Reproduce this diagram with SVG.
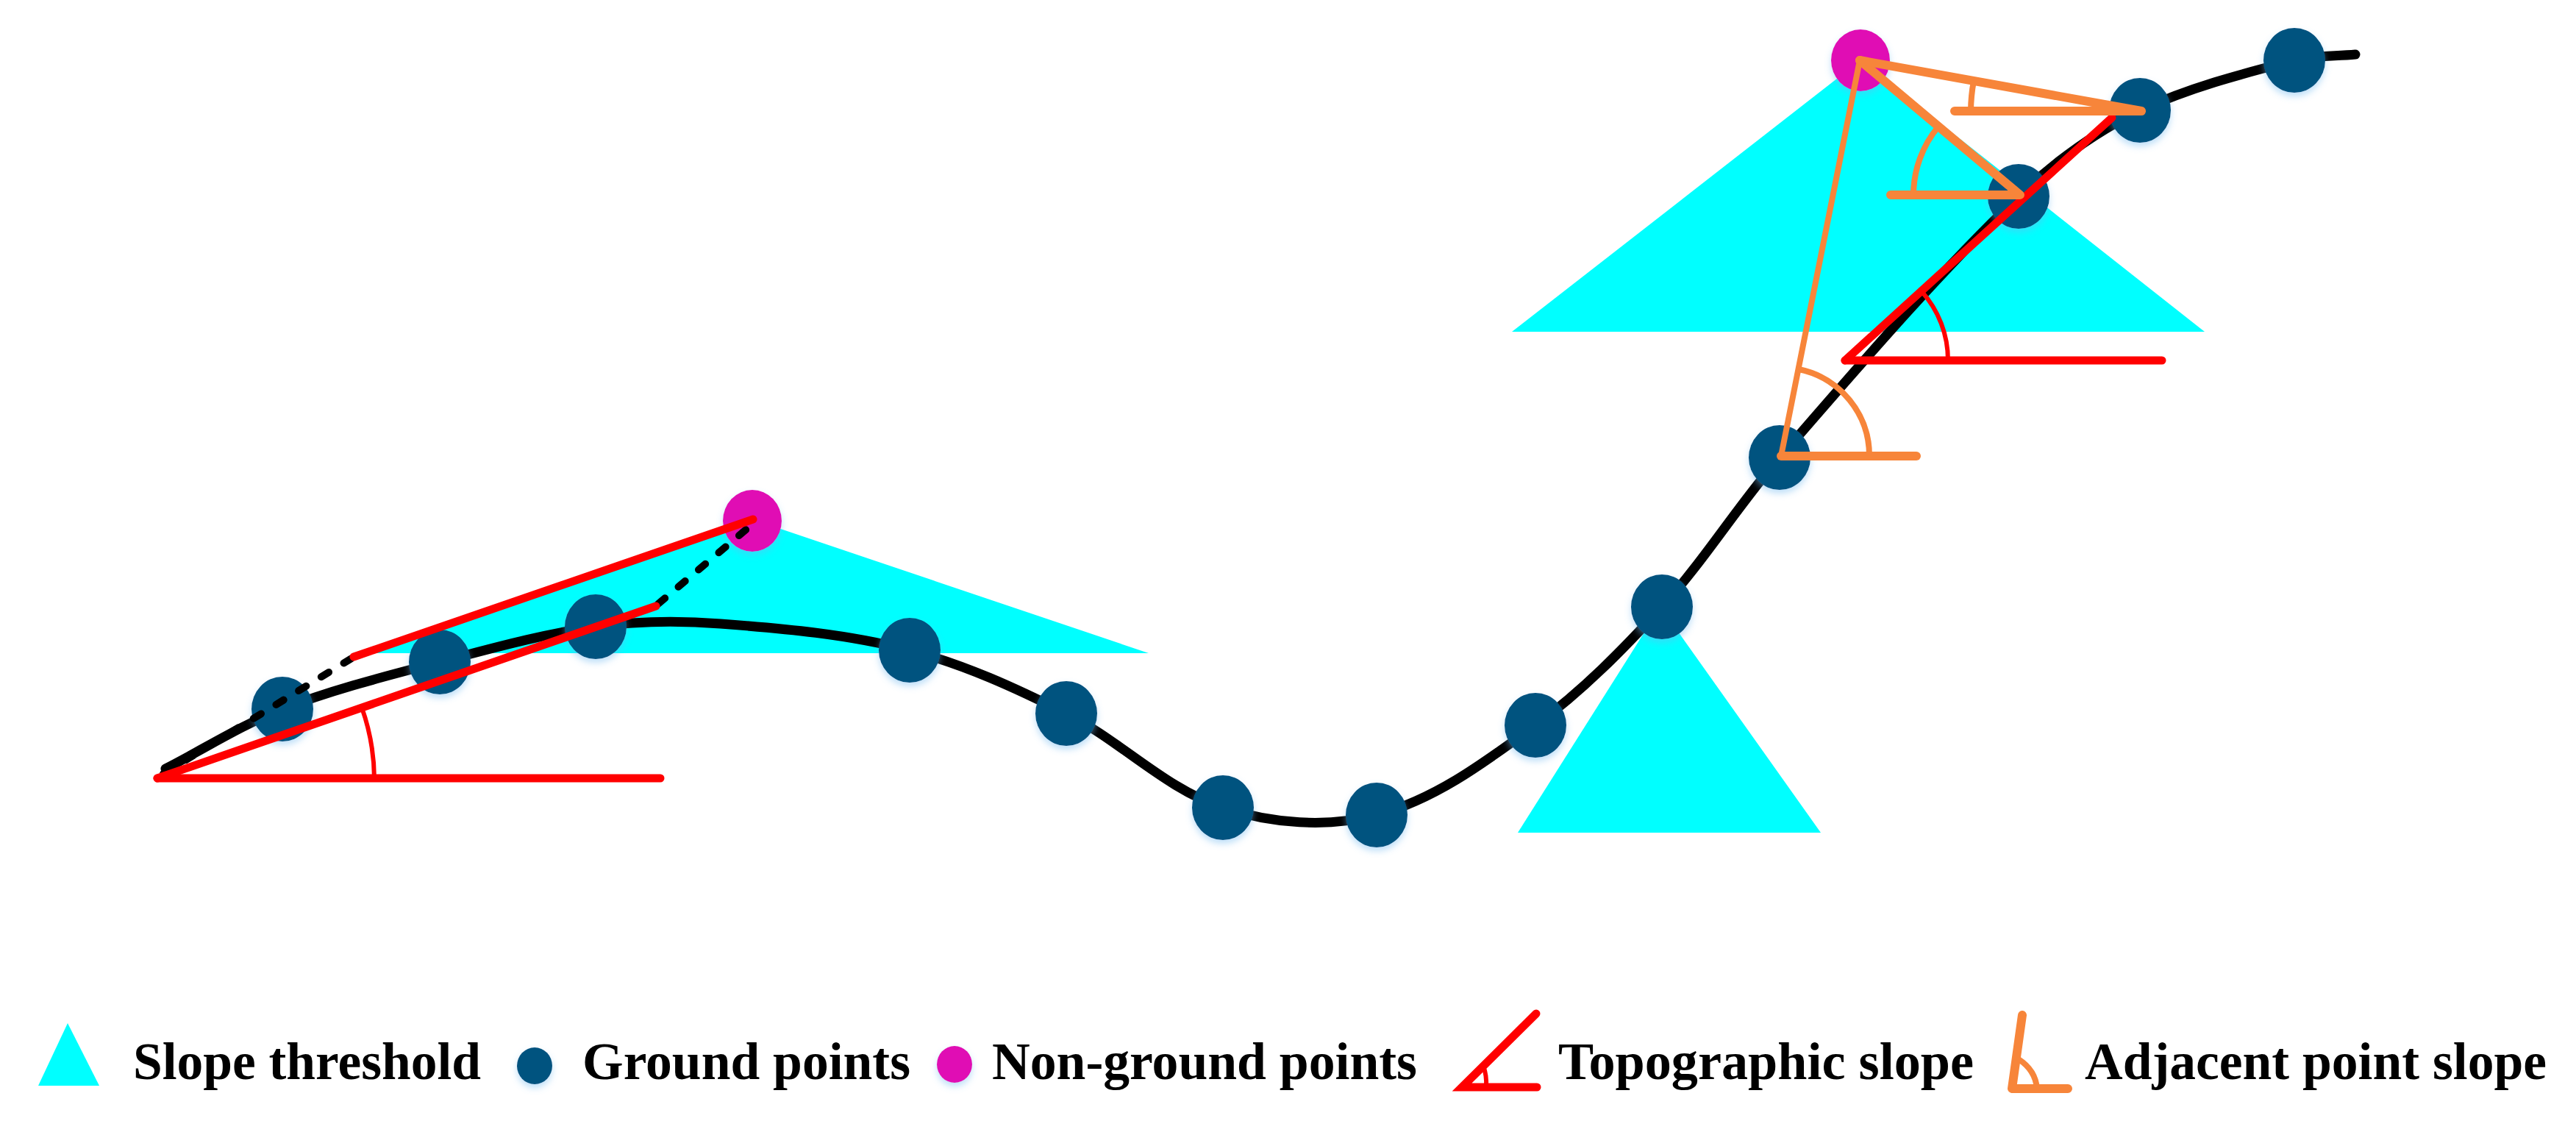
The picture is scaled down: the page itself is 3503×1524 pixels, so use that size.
<svg xmlns="http://www.w3.org/2000/svg" width="3503" height="1524" viewBox="0 0 3503 1524">
<defs>
<filter id="glow" x="-50%" y="-50%" width="200%" height="200%">
<feDropShadow dx="0" dy="5" stdDeviation="5" flood-color="#6FB8F0" flood-opacity="0.45"/>
</filter>
<style>
.tri{fill:#00FFFF}
.gp{fill:#03527F;filter:url(#glow)}
.ngp{fill:#E00DB4;filter:url(#glow)}
.curve{fill:none;stroke:#000;stroke-width:13;stroke-linecap:round}
.red{fill:none;stroke:#FF0000;stroke-width:11;stroke-linecap:round}
.redthin{fill:none;stroke:#FF0000;stroke-width:6}
.org{fill:none;stroke:#F7853A;stroke-width:12;stroke-linecap:round;stroke-linejoin:round}
.orglong{fill:none;stroke:#F7853A;stroke-width:8;stroke-linecap:round}
.orgthin{fill:none;stroke:#F7853A;stroke-width:8}
.dash{fill:none;stroke:#000;stroke-width:10;stroke-linecap:round;stroke-dasharray:12 24}
.lbl{font-family:"Liberation Serif","Times New Roman",serif;font-weight:bold;font-size:72px;fill:#000}
</style>
</defs>
<rect width="3503" height="1524" fill="#FFFFFF"/>
<g id="thresholds">
<polygon id="threshold-1" class="tri" points="1023,706 1562,888 488,888"/>
<polygon id="threshold-2" class="tri" points="2258,825 2064,1132 2476,1132"/>
<polygon id="threshold-3" class="tri" points="2530,82 2056,451 2998,451"/>
</g>
<g id="connectors">
<path id="terrain" class="curve" d="M225,1045 C278,1018 328.5,985.5 384,964 C453.4,937 526,918.9 598,900 C668.1,881.6 738.2,861.8 810,852 C866.2,844.3 923.5,843.7 980,848 C1066.2,854.5 1153.3,862.3 1237,884 C1311.1,903.2 1381.5,935.6 1450,970 C1524,1007.2 1584.3,1072.2 1663,1098 C1729.2,1119.7 1804.6,1125.8 1872,1108 C1952,1086.9 2021.2,1034.7 2088,986 C2151.4,939.8 2207.1,883 2260,825 C2318.1,761.3 2363.5,687.1 2420,622 C2525.2,500.9 2629.5,378.3 2745,267 C2793.5,220.2 2849.5,179.8 2910,150 C2981.2,117.5 3048.8,100.5 3120,82 C3146.9,75 3175.3,76.7 3203,74"/>
</g>
<g id="points">
<ellipse id="g1" class="gp" cx="384" cy="964" rx="42" ry="44"/>
<ellipse id="g2" class="gp" cx="598" cy="900" rx="42" ry="44"/>
<ellipse id="g3" class="gp" cx="810" cy="852" rx="42" ry="44"/>
<ellipse id="g4" class="gp" cx="1237" cy="884" rx="42" ry="44"/>
<ellipse id="g5" class="gp" cx="1450" cy="970" rx="42" ry="44"/>
<ellipse id="g6" class="gp" cx="1663" cy="1098" rx="42" ry="44"/>
<ellipse id="g7" class="gp" cx="1872" cy="1108" rx="42" ry="44"/>
<ellipse id="g8" class="gp" cx="2088" cy="986" rx="42" ry="44"/>
<ellipse id="g9" class="gp" cx="2260" cy="825" rx="42" ry="44"/>
<ellipse id="g10" class="gp" cx="2420" cy="622" rx="42" ry="44"/>
<ellipse id="g11" class="gp" cx="2745" cy="267" rx="42" ry="44"/>
<ellipse id="g12" class="gp" cx="2910" cy="150" rx="42" ry="44"/>
<ellipse id="g13" class="gp" cx="3120" cy="82" rx="42" ry="44"/>
<ellipse id="ng1" class="ngp" cx="1023" cy="708" rx="40" ry="42"/>
<ellipse id="ng2" class="ngp" cx="2530" cy="82" rx="40" ry="42"/>
</g>
<g id="slopes-left">
<path class="dash" d="M222,1052 L478,895"/>
<path class="dash" d="M895,821 L1018,717"/>
<path class="red" d="M214,1058 L898,1058"/>
<path class="red" d="M214,1058 L892,824"/>
<path class="red" d="M481,893 L1024,706"/>
<path class="redthin" d="M492,962 A295,295 0 0 1 509,1058"/>
</g>
<g id="slopes-right">
<path class="red" d="M2509,490 L2940,490"/>
<path class="red" d="M2509,490 L2872,160"/>
<path class="redthin" d="M2613,396 A140,140 0 0 1 2649,490"/>
<path class="orglong" d="M2529,82 L2422,620"/>
<path class="org" d="M2422,620 L2606,620"/>
<path class="orgthin" d="M2446,502 A120,120 0 0 1 2542,620"/>
<path class="org" d="M2529,82 L2747,265 L2571,265"/>
<path class="orgthin" d="M2636,172 A145,145 0 0 0 2602,265"/>
<path class="org" d="M2529,82 L2912,151 L2658,151"/>
<path class="orgthin" d="M2684,110 A232,232 0 0 0 2680,151"/>
</g>
<g id="legend">
<g id="legend-threshold">
<polygon class="tri" points="92,1391 52,1476 135,1476"/>
<text class="lbl" x="181" y="1467" textLength="473" lengthAdjust="spacingAndGlyphs">Slope threshold</text>
</g>
<g id="legend-ground">
<ellipse class="gp" cx="727" cy="1449" rx="24" ry="25"/>
<text class="lbl" x="792" y="1467" textLength="446" lengthAdjust="spacingAndGlyphs">Ground points</text>
</g>
<g id="legend-nonground">
<ellipse class="ngp" cx="1298" cy="1447" rx="24" ry="25"/>
<text class="lbl" x="1349" y="1467" textLength="578" lengthAdjust="spacingAndGlyphs">Non-ground points</text>
</g>
<g id="legend-topo">
<path class="red" d="M2089,1378 L1988,1478 L2090,1478"/>
<path class="redthin" d="M2017,1449 Q2022,1462 2021,1478"/>
<text class="lbl" x="2119" y="1467" textLength="565" lengthAdjust="spacingAndGlyphs">Topographic slope</text>
</g>
<g id="legend-adjacent">
<path class="org" d="M2750,1380 L2736,1480 L2812,1480"/>
<path class="orgthin" d="M2745,1440 Q2768,1455 2770,1480"/>
<text class="lbl" x="2835" y="1467" textLength="628" lengthAdjust="spacingAndGlyphs">Adjacent point slope</text>
</g>
</g>
</svg>
